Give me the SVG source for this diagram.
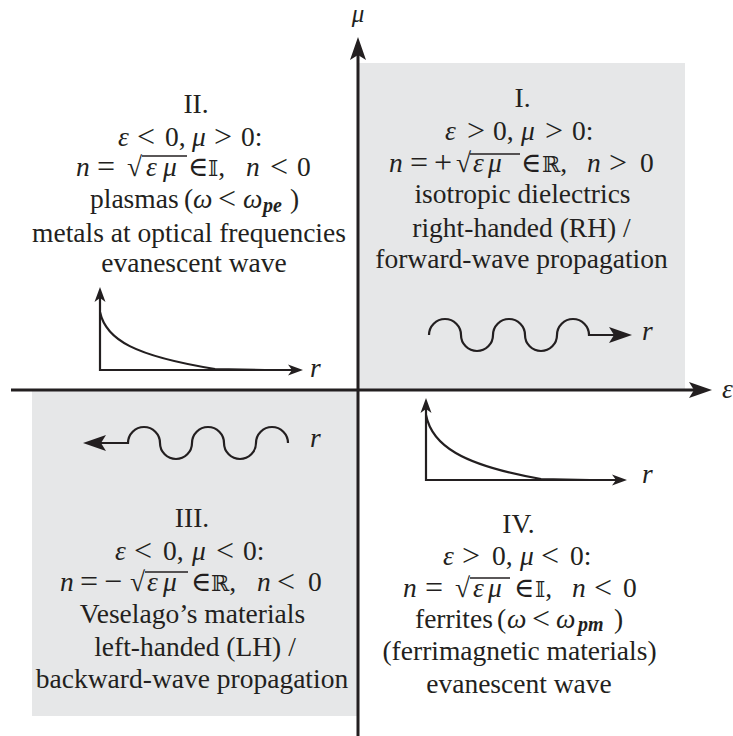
<svg xmlns="http://www.w3.org/2000/svg" width="733" height="736" viewBox="0 0 733 736">
<style>
.t{font-family:"Liberation Serif","Times New Roman","DejaVu Serif",serif;font-size:27.5px;fill:#231f20}
.c{text-anchor:middle}
.i{font-style:italic}
.r{font-size:32px}
.ds{font-family:"DejaVu Serif","DejaVu Sans","Liberation Serif",serif;font-style:normal;font-size:22px}
.sub{font-size:20px;font-style:italic;font-weight:bold}
.ax{stroke:#231f20;stroke-width:3;fill:none}
.pl{stroke:#231f20;stroke-width:2.2;fill:none}
.ov{stroke:#231f20;stroke-width:1.4}
.bg{fill:#e6e7e8}
</style>
<defs>
<marker id="big" markerUnits="userSpaceOnUse" viewBox="0 -9 24 18" markerWidth="24" markerHeight="18" refX="5" refY="0" orient="auto">
<path d="M0,-8 L23,0 L0,8 L5,0 Z" fill="#231f20"/>
</marker>
<marker id="sm" markerUnits="userSpaceOnUse" viewBox="0 -7 16 14" markerWidth="16" markerHeight="14" refX="4" refY="0" orient="auto">
<path d="M0,-5.5 L15,0 L0,5.5 L4,0 Z" fill="#231f20"/>
</marker>
</defs>

<g id="backgrounds">
<rect class="bg" x="358" y="63" width="327" height="327"/>
<rect class="bg" x="32" y="390" width="326" height="326"/>
</g>

<g id="axes">
<line class="ax" x1="358" y1="736" x2="358" y2="55" marker-end="url(#big)"/>
<line class="ax" x1="11" y1="390" x2="694" y2="390" marker-end="url(#big)"/>
<text class="t i c" x="358" y="22" style="font-size:25px">μ</text>
<text class="t i" x="722" y="398">ε</text>
</g>

<g id="quadrant-I">
<text class="t c" x="522.5" y="107">I.</text>
<text class="t"><tspan class="i" x="445" y="140">ε</tspan><tspan class="r" x="467" y="141">&gt;</tspan><tspan x="493" y="140">0,</tspan><tspan class="i" x="521" y="140">μ</tspan><tspan class="r" x="545" y="141">&gt;</tspan><tspan x="572" y="140">0:</tspan></text>
<text class="t"><tspan class="i" x="389" y="172">n</tspan><tspan class="r" x="410" y="173">=</tspan><tspan class="r" x="434" y="173">+</tspan><tspan x="456" y="172">√</tspan><tspan class="i" x="473" y="172">ε</tspan><tspan class="i" x="488" y="172">μ</tspan><tspan x="521" y="172">∈</tspan><tspan class="ds" x="542" y="172">ℝ</tspan><tspan>,</tspan><tspan class="i" x="587" y="172">n</tspan><tspan class="r" x="609" y="173">&gt;</tspan><tspan x="640" y="172">0</tspan></text>
<line class="ov" x1="470" y1="154" x2="520" y2="154"/>
<text class="t c" x="522.5" y="203">isotropic dielectrics</text>
<text class="t c" x="521.5" y="237">right-handed (RH) /</text>
<text class="t c" x="521.5" y="268">forward-wave propagation</text>
<path class="pl" d="M429,335 a16,16 0 0 1 32,0 a16,16 0 0 0 32,0 a16,16 0 0 1 32,0 a16,16 0 0 0 32,0 a16,16 0 0 1 32,0 L614,335" marker-end="url(#big)"/>
<text class="t i" x="642" y="340">r</text>
</g>

<g id="quadrant-II">
<text class="t c" x="196" y="113">II.</text>
<text class="t"><tspan class="i" x="118" y="146">ε</tspan><tspan class="r" x="137" y="147">&lt;</tspan><tspan x="165" y="146">0,</tspan><tspan class="i" x="192" y="146">μ</tspan><tspan class="r" x="214" y="147">&gt;</tspan><tspan x="241" y="146">0:</tspan></text>
<text class="t"><tspan class="i" x="76" y="176">n</tspan><tspan class="r" x="97" y="177">=</tspan><tspan x="127" y="176">√</tspan><tspan class="i" x="146" y="176">ε</tspan><tspan class="i" x="163" y="176">μ</tspan><tspan x="188" y="176">∈</tspan><tspan class="ds" x="208" y="176">𝕀</tspan><tspan>,</tspan><tspan class="i" x="246" y="176">n</tspan><tspan class="r" x="270" y="177">&lt;</tspan><tspan x="297" y="176">0</tspan></text>
<line class="ov" x1="142" y1="156" x2="187" y2="156"/>
<text class="t"><tspan x="90" y="208">plasmas</tspan><tspan x="184" y="208">(</tspan><tspan class="i" x="193" y="208">ω</tspan><tspan class="r" x="218" y="209">&lt;</tspan><tspan class="i" x="243" y="208">ω</tspan><tspan class="sub" x="263" y="212">pe</tspan><tspan x="290" y="208">)</tspan></text>
<text class="t c" x="189" y="242">metals at optical frequencies</text>
<text class="t c" x="194" y="272">evanescent wave</text>
<line class="pl" x1="100" y1="371" x2="100" y2="298" marker-end="url(#sm)"/>
<line class="pl" x1="99" y1="370" x2="292" y2="370" marker-end="url(#sm)"/>
<path class="pl" d="M100,312 C106,340 135,356 215,369 L265,370"/>
<text class="t i" x="310" y="377">r</text>
</g>

<g id="quadrant-III">
<text class="t c" x="192" y="527">III.</text>
<text class="t"><tspan class="i" x="115" y="560">ε</tspan><tspan class="r" x="134" y="561">&lt;</tspan><tspan x="163" y="560">0,</tspan><tspan class="i" x="192" y="560">μ</tspan><tspan class="r" x="216" y="561">&lt;</tspan><tspan x="243" y="560">0:</tspan></text>
<text class="t"><tspan class="i" x="60" y="591">n</tspan><tspan class="r" x="80" y="592">=</tspan><tspan class="r" x="104" y="592">−</tspan><tspan x="130" y="591">√</tspan><tspan class="i" x="147" y="591">ε</tspan><tspan class="i" x="163" y="591">μ</tspan><tspan x="191" y="591">∈</tspan><tspan class="ds" x="211" y="591">ℝ</tspan><tspan>,</tspan><tspan class="i" x="257" y="591">n</tspan><tspan class="r" x="277" y="592">&lt;</tspan><tspan x="308" y="591">0</tspan></text>
<line class="ov" x1="145" y1="572" x2="188" y2="572"/>
<text class="t c" x="192.5" y="623">Veselago’s materials</text>
<text class="t c" x="195" y="656">left-handed (LH) /</text>
<text class="t c" x="192" y="688">backward-wave propagation</text>
<path class="pl" d="M288,443 a16,16 0 0 0 -32,0 a16,16 0 0 1 -32,0 a16,16 0 0 0 -32,0 a16,16 0 0 1 -32,0 a16,16 0 0 0 -32,0 L101,443" marker-end="url(#big)"/>
<text class="t i" x="310" y="447">r</text>
</g>

<g id="quadrant-IV">
<text class="t c" x="518.5" y="533">IV.</text>
<text class="t"><tspan class="i" x="443" y="565">ε</tspan><tspan class="r" x="462" y="566">&gt;</tspan><tspan x="492" y="565">0,</tspan><tspan class="i" x="520" y="565">μ</tspan><tspan class="r" x="541" y="566">&lt;</tspan><tspan x="570" y="565">0:</tspan></text>
<text class="t"><tspan class="i" x="403" y="597">n</tspan><tspan class="r" x="425" y="598">=</tspan><tspan x="455" y="597">√</tspan><tspan class="i" x="473" y="597">ε</tspan><tspan class="i" x="488" y="597">μ</tspan><tspan x="514" y="597">∈</tspan><tspan class="ds" x="535" y="597">𝕀</tspan><tspan>,</tspan><tspan class="i" x="572" y="597">n</tspan><tspan class="r" x="594" y="598">&lt;</tspan><tspan x="623" y="597">0</tspan></text>
<line class="ov" x1="470" y1="578" x2="510" y2="578"/>
<text class="t"><tspan x="415" y="628">ferrites</tspan><tspan x="497" y="628">(</tspan><tspan class="i" x="507" y="628">ω</tspan><tspan class="r" x="532" y="629">&lt;</tspan><tspan class="i" x="556" y="628">ω</tspan><tspan class="sub" x="578" y="631">pm</tspan><tspan x="614" y="628">)</tspan></text>
<text class="t c" x="519.5" y="660">(ferrimagnetic materials)</text>
<text class="t c" x="519" y="693">evanescent wave</text>
<line class="pl" x1="426" y1="481" x2="426" y2="409" marker-end="url(#sm)"/>
<line class="pl" x1="425" y1="480" x2="616" y2="480" marker-end="url(#sm)"/>
<path class="pl" d="M426,415 C432,445 461,465 541,479 L590,480"/>
<text class="t i" x="642" y="483">r</text>
</g>
</svg>
